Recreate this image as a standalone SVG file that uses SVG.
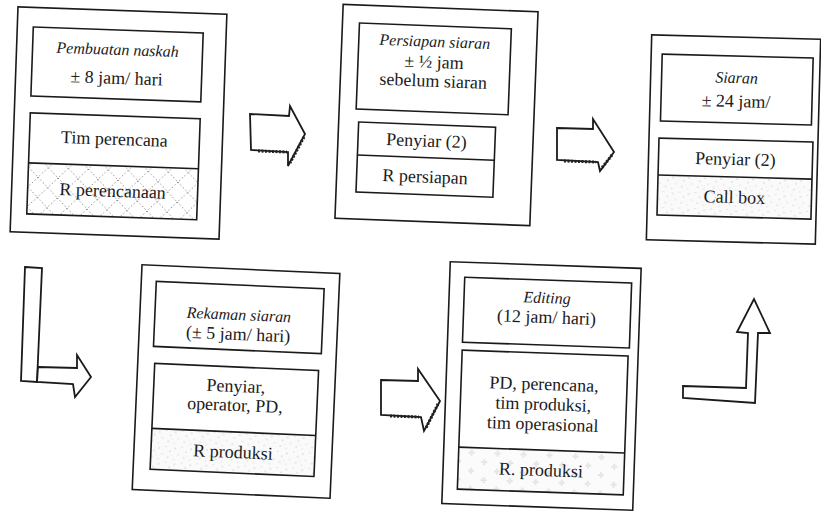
<svg xmlns="http://www.w3.org/2000/svg" width="821" height="512" viewBox="0 0 821 512">
<defs>
<style>
.frame{fill:#fff;stroke:#1a1a1a;stroke-width:1.6}
.box{fill:none;stroke:#1a1a1a;stroke-width:1.6}
.t{font-family:'Liberation Serif','DejaVu Serif',serif;font-size:18px;fill:#1a1a1a;text-anchor:middle}
.ti{font-family:'Liberation Serif','DejaVu Serif',serif;font-size:16px;font-style:italic;fill:#1a1a1a;text-anchor:middle}
.arrow{fill:#fff;stroke:#1a1a1a;stroke-width:1.8;stroke-linejoin:miter}
.shade{fill:none;stroke:#222;stroke-width:3;stroke-dasharray:2 1.5}
</style>
<pattern id="hatch" width="20" height="20" patternUnits="userSpaceOnUse">
<path d="M0 0 L20 20 M20 0 L0 20" stroke="#666" stroke-width="0.9" stroke-dasharray="1.2 2.4" fill="none"/>
</pattern>
<pattern id="stipple" width="16" height="16" patternUnits="userSpaceOnUse">
<rect width="16" height="16" fill="#fafafa"/>
<circle cx="2" cy="3" r="0.6" fill="#a5a5a5"/>
<circle cx="9" cy="1.5" r="0.5" fill="#bbb"/>
<circle cx="13" cy="6" r="0.6" fill="#aaa"/>
<circle cx="5" cy="9" r="0.5" fill="#b5b5b5"/>
<circle cx="11" cy="12" r="0.6" fill="#aaa"/>
<circle cx="1" cy="14" r="0.5" fill="#c0c0c0"/>
<circle cx="15" cy="10" r="0.4" fill="#c5c5c5"/>
</pattern>
<pattern id="cluster" width="26" height="18" patternUnits="userSpaceOnUse">
<rect width="26" height="18" fill="#fbfbfb"/>
<g fill="#999">
<circle cx="6" cy="3" r="0.6"/><circle cx="4" cy="5" r="0.6"/><circle cx="8" cy="5" r="0.6"/><circle cx="6" cy="7" r="0.6"/><circle cx="6" cy="5" r="0.5"/>
<circle cx="19" cy="12" r="0.6"/><circle cx="17" cy="14" r="0.6"/><circle cx="21" cy="14" r="0.6"/><circle cx="19" cy="16" r="0.6"/><circle cx="19" cy="14" r="0.5"/>
</g>
</pattern>
</defs>

<g id="connectors">
<g id="arrow-1-2">
<polygon class="arrow" points="250,114 289,116 290,106 305,134 288,166 288,152 251,150"/>
<path class="shade" d="M258,151 L287,152 M304,137 L290,163"/>
</g>
<g id="arrow-2-3">
<polygon class="arrow" points="557,128 593,129 593,119 614,152 600,171 598,162 557,160"/>
<path class="shade" d="M564,161 L596,162 M612,155 L601,169"/>
</g>
<g id="arrow-1-4">
<polygon class="arrow" points="25,267 42,268 37,382 21,381"/>
<polygon class="arrow" points="38,367 77,368 77,355 91,377 75,397 73,384 37,382"/>
</g>
<g id="arrow-4-5">
<polygon class="arrow" points="381,380 418,381 418,369 440,401 424,431 421,417 381,415"/>
<path class="shade" d="M390,416 L419,417 M438,404 L426,428"/>
</g>
<g id="arrow-5-3">
<polygon class="arrow" points="683,386 746,388 748,333 737,332 754,299 770,333 758,333 755,403 683,398"/>
</g>
</g>

<g id="node-pembuatan" transform="rotate(2 118.5 123)">
<rect class="frame" x="14" y="10.5" width="209" height="225"/>
<rect class="box" x="30" y="30" width="170" height="69"/>
<rect x="30" y="166" width="170" height="51" fill="url(#hatch)"/>
<rect class="box" x="30" y="116" width="170" height="101"/>
<line class="box" x1="30" y1="166" x2="200" y2="166"/>
<text class="ti" x="115" y="55">Pembuatan naskah</text>
<text class="t" x="115" y="84">± 8 jam/ hari</text>
<text class="t" x="115" y="145">Tim perencana</text>
<text class="t" x="115" y="197">R perencanaan</text>
</g>

<g id="node-persiapan" transform="rotate(2.2 436.5 114.75)">
<rect class="frame" x="339" y="8" width="195" height="214"/>
<rect class="box" x="356" y="26" width="152" height="86"/>
<rect class="box" x="359" y="125" width="137" height="70"/>
<line class="box" x1="359" y1="158" x2="496" y2="158"/>
<text class="ti" x="432" y="47">Persiapan siaran</text>
<text class="t" x="432" y="68">± ½ jam</text>
<text class="t" x="432" y="87">sebelum siaran</text>
<text class="t" x="427.5" y="147">Penyiar (2)</text>
<text class="t" x="427.5" y="183">R persiapan</text>
</g>

<g id="node-siaran" transform="rotate(1.5 733 139.5)">
<rect class="frame" x="649" y="37" width="169" height="205"/>
<rect class="box" x="660" y="56" width="151" height="67"/>
<rect x="659" y="177" width="154" height="40" fill="url(#stipple)"/>
<rect class="box" x="659" y="140" width="154" height="77"/>
<line class="box" x1="659" y1="177" x2="813" y2="177"/>
<text class="ti" x="735" y="83">Siaran</text>
<text class="t" x="735" y="107">± 24 jam/</text>
<text class="t" x="736" y="165">Penyiar (2)</text>
<text class="t" x="736" y="203">Call box</text>
</g>

<g id="node-rekaman" transform="rotate(2.5 236 382)">
<rect class="frame" x="137" y="269" width="198" height="225"/>
<rect class="box" x="152" y="285" width="168" height="65"/>
<rect x="154" y="432" width="164" height="41" fill="url(#stipple)"/>
<rect class="box" x="154" y="367" width="164" height="106"/>
<line class="box" x1="154" y1="432" x2="318" y2="432"/>
<text class="ti" x="236" y="320">Rekaman siaran</text>
<text class="t" x="236" y="340">(± 5 jam/ hari)</text>
<text class="t" x="236" y="392">Penyiar,</text>
<text class="t" x="236" y="411">operator, PD,</text>
<text class="t" x="236" y="458">R produksi</text>
</g>

<g id="node-editing" transform="rotate(2 541.8 385.75)">
<rect class="frame" x="446" y="265" width="191" height="242"/>
<rect class="box" x="461" y="280" width="167" height="65"/>
<rect x="461" y="450" width="166" height="42" fill="url(#cluster)"/>
<rect class="box" x="461" y="353" width="166" height="139"/>
<line class="box" x1="461" y1="450" x2="627" y2="450"/>
<text class="ti" x="544" y="303">Editing</text>
<text class="t" x="544" y="323">(12 jam/ hari)</text>
<text class="t" x="544" y="390">PD, perencana,</text>
<text class="t" x="544" y="410">tim produksi,</text>
<text class="t" x="544" y="430">tim operasional</text>
<text class="t" x="544" y="476">R. produksi</text>
</g>
</svg>
